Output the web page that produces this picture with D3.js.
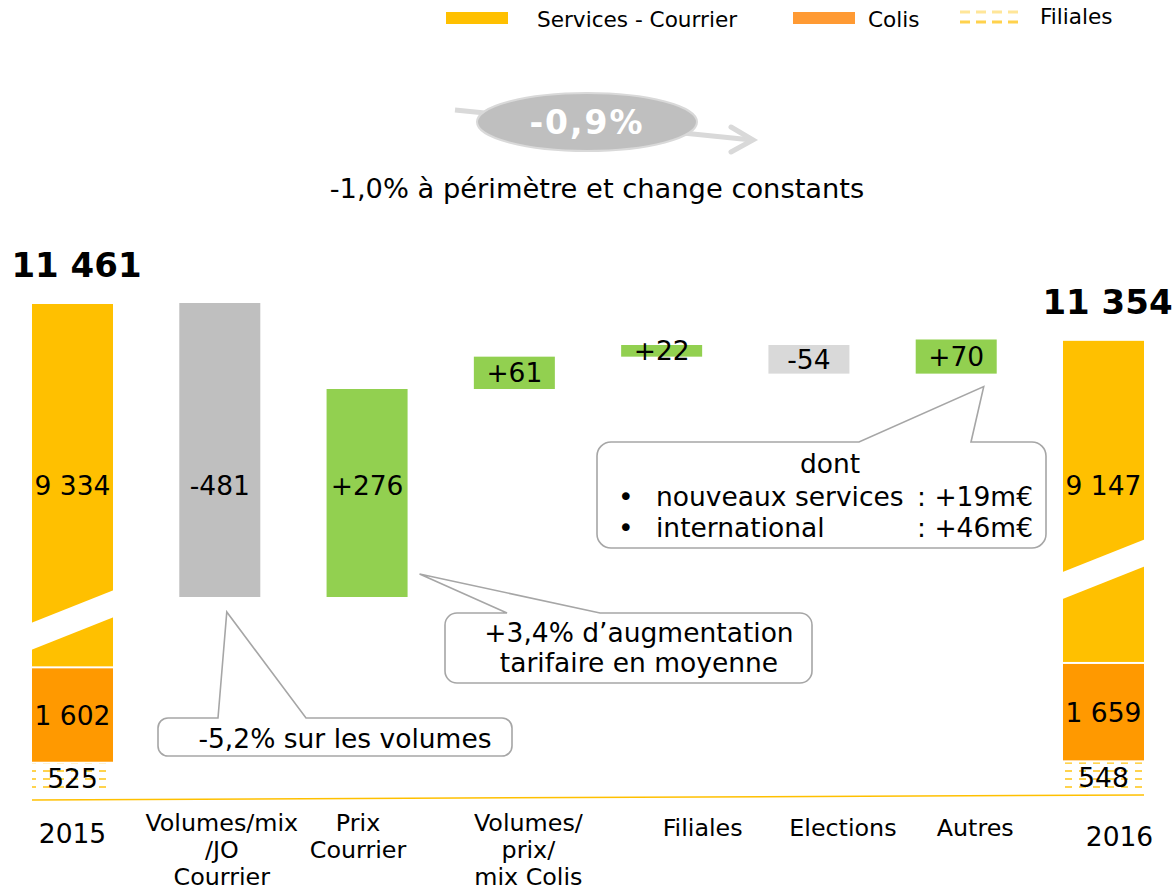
<!DOCTYPE html>
<html>
<head>
<meta charset="utf-8">
<script src="https://cdn.jsdelivr.net/npm/d3@7"></script>
<style>
  body { margin: 0; background: #fff; }
  text { font-family: "DejaVu Sans", Verdana, sans-serif; fill: #000; }
</style>
</head>
<body>
<svg id="chart" width="1172" height="893"></svg>
<script>
// ---- data ----
const categories = ["2015", "Volumes/mix /JO Courrier", "Prix Courrier", "Volumes/ prix/ mix Colis",
  "Filiales", "Elections", "Autres", "2016"];
const categoryLines = [["2015"], ["Volumes/mix", "/JO", "Courrier"], ["Prix", "Courrier"],
  ["Volumes/", "prix/", "mix Colis"], ["Filiales"], ["Elections"], ["Autres"], ["2016"]];
const segments = ["Services - Courrier", "Colis", "Filiales"];
const values2015 = [9334, 1602, 525];
const values2016 = [9147, 1659, 548];
const deltas = [-481, 276, 61, 22, -54, 70];
const headline = "-0,9%";
const subtitle = "-1,0% à périmètre et change constants";
const notes = {
  volumes: ["-5,2% sur les volumes"],
  prix: ["+3,4% d\u2019augmentation", "tarifaire en moyenne"],
  autresTitle: "dont",
  autresItems: [["nouveaux services", ": +19m€"], ["international", ": +46m€"]]
};

// ---- styles / layout ----
const segColor = {"Services - Courrier": "#ffc000", "Colis": "#ff9900", "Filiales": "url(#filPat)"};
const deltaFill = ["#bfbfbf", "#92d050", "#92d050", "#92d050", "#d9d9d9", "#92d050"];
const labelDx = [0, 2, -9, 14, 41, 34, 19, 16];
const labelBase = [843, 831, 831, 831, 836, 836, 836, 846];
const lineStep = 27;
const breakFrac = [0.13, 0.29];

const fr = d3.formatLocale({decimal: ",", thousands: " ", grouping: [3], currency: ["", "€"]});
const fmt = fr.format(",d");
const fmtSigned = v => (v > 0 ? "+" : "-") + fmt(Math.abs(v));

const svg = d3.select("#chart");
const defs = svg.append("defs");
const pat = defs.append("pattern").attr("id", "filPat")
  .attr("patternUnits", "userSpaceOnUse").attr("width", 14).attr("height", 8);
pat.append("rect").attr("x", 1).attr("y", 2).attr("width", 7).attr("height", 2).attr("fill", "#ffd34d");

const x = d3.scaleBand().domain(categories).range([32, 1144]).paddingInner(0.45).paddingOuter(0);
// broken value axis: stacked base compressed, top section stretched
const y = d3.scaleLinear()
  .domain([0, 2200, 10980, 11256, 11339, 11461])
  .range([794, 663, 597, 389, 345, 303]);
const bw = x.bandwidth();

// ---- legend ----
const legend = svg.append("g");
legend.append("rect").attr("x", 446).attr("y", 12).attr("width", 62).attr("height", 12).attr("fill", "#ffc000");
legend.append("text").attr("x", 537).attr("y", 27).attr("font-size", 21.6).text(segments[0]);
legend.append("rect").attr("x", 793).attr("y", 12).attr("width", 62).attr("height", 12).attr("fill", "#ff9a33");
legend.append("text").attr("x", 868).attr("y", 27).attr("font-size", 21.6).text(segments[1]);
legend.append("line").attr("x1", 960).attr("x2", 1020).attr("y1", 12).attr("y2", 12)
  .attr("stroke", "#ffe699").attr("stroke-width", 3).attr("stroke-dasharray", "10 6");
legend.append("line").attr("x1", 960).attr("x2", 1020).attr("y1", 22).attr("y2", 22)
  .attr("stroke", "#ffd24d").attr("stroke-width", 3).attr("stroke-dasharray", "10 6");
legend.append("text").attr("x", 1040).attr("y", 24).attr("font-size", 21.6).text(segments[2]);

// ---- headline growth ----
const head = svg.append("g");
head.append("line").attr("x1", 455).attr("y1", 110).attr("x2", 752).attr("y2", 140)
  .attr("stroke", "#d9d9d9").attr("stroke-width", 5);
head.append("polyline").attr("points", "731,127 753,140 731,152")
  .attr("fill", "none").attr("stroke", "#d9d9d9").attr("stroke-width", 5).attr("stroke-linecap", "round");
head.append("ellipse").attr("cx", 587).attr("cy", 122).attr("rx", 110).attr("ry", 29)
  .attr("fill", "#bfbfbf").attr("stroke", "#d9d9d9").attr("stroke-width", 2);
head.append("text").attr("x", 587).attr("y", 122).attr("dy", "0.36em").attr("text-anchor", "middle")
  .attr("font-size", 33).attr("font-weight", "bold").attr("letter-spacing", 2)
  .style("fill", "#fff").text(headline);
svg.append("text").attr("x", 597).attr("y", 198).attr("text-anchor", "middle")
  .attr("font-size", 27.3).text(subtitle);

// ---- baseline ----
svg.append("line").attr("x1", 32).attr("x2", 1144).attr("y1", y(0) + 6).attr("y2", y(0) + 1)
  .attr("stroke", "#ffc000").attr("stroke-width", 1.5);

// ---- total bars ----
const labelRowY = (y(values2015[1] + values2015[2]) + y(d3.sum(values2015))) / 2;

function stackTotal(vals) {
  let acc = 0;
  const out = [];
  for (let i = vals.length - 1; i >= 0; i--) {
    out.push({seg: segments[i], v: vals[i], y0: acc, y1: acc + vals[i]});
    acc += vals[i];
  }
  return out;
}

const totals = [
  {cat: categories[0], stack: stackTotal(values2015), total: d3.sum(values2015), brk: breakFrac[0]},
  {cat: categories[7], stack: stackTotal(values2016), total: d3.sum(values2016), brk: breakFrac[1]}
];

totals.forEach(t => {
  const g = svg.append("g");
  const x0 = x(t.cat);
  g.selectAll("rect").data(t.stack).enter().append("rect")
    .attr("x", x0).attr("width", bw)
    .attr("y", d => y(d.y1) + 1)
    .attr("height", d => y(d.y0) - y(d.y1) - 2)
    .attr("fill", d => segColor[d.seg]);
  // break marker across the courrier segment
  const top = t.stack[2];
  const yb = y(top.y0) - t.brk * (y(top.y0) - y(top.y1));
  const h = 27, rise = 33;
  g.append("polygon")
    .attr("points", [[x0 - 1, yb + rise / 2 + h / 2], [x0 + bw + 1, yb - rise / 2 + h / 2],
      [x0 + bw + 1, yb - rise / 2 - h / 2], [x0 - 1, yb + rise / 2 - h / 2]].join(" "))
    .attr("fill", "#fff");
  g.selectAll("text.seg").data(t.stack).enter().append("text")
    .attr("class", "seg")
    .attr("x", x0 + bw / 2).attr("text-anchor", "middle").attr("font-size", 26.5)
    .attr("y", d => d.seg === segments[0] ? labelRowY : (y(d.y0) + y(d.y1)) / 2)
    .attr("dy", "0.36em")
    .text(d => fmt(d.v));
  g.append("text").attr("x", x0 + bw / 2 + 4).attr("y", y(t.total) - 26)
    .attr("text-anchor", "middle").attr("font-size", 34).attr("font-weight", "bold")
    .text(fmt(t.total));
});

// ---- delta bars ----
let run = d3.sum(values2015);
const steps = deltas.map((d, i) => {
  const s = {cat: categories[i + 1], d: d, from: run, to: run + d, fill: deltaFill[i]};
  run += d;
  return s;
});

svg.selectAll("rect.delta").data(steps).enter().append("rect")
  .attr("class", "delta")
  .attr("x", d => x(d.cat)).attr("width", bw)
  .attr("y", d => y(Math.max(d.from, d.to)))
  .attr("height", d => Math.abs(y(d.from) - y(d.to)))
  .attr("fill", d => d.fill);

svg.selectAll("text.delta").data(steps).enter().append("text")
  .attr("class", "delta")
  .attr("x", d => x(d.cat) + bw / 2).attr("text-anchor", "middle").attr("font-size", 26.5)
  .attr("y", d => Math.abs(y(d.from) - y(d.to)) > 150 ? labelRowY : (y(d.from) + y(d.to)) / 2)
  .attr("dy", "0.36em")
  .text(d => fmtSigned(d.d));

// ---- category labels ----
categories.forEach((c, i) => {
  const t = svg.append("text").attr("text-anchor", "middle")
    .attr("font-size", (i === 0 || i === 7) ? 26.5 : 23.8)
    .attr("x", x(c) + bw / 2 + labelDx[i]).attr("y", labelBase[i]);
  categoryLines[i].forEach((line, j) => {
    t.append("tspan").attr("x", x(c) + bw / 2 + labelDx[i]).attr("dy", j === 0 ? 0 : lineStep).text(line);
  });
});

// ---- callouts ----
function calloutPath(bx, by, w, h, r, p1, p2, tx, ty) {
  return `M${bx + r},${by} L${p1},${by} L${tx},${ty} L${p2},${by} L${bx + w - r},${by}` +
    ` A${r},${r} 0 0 1 ${bx + w},${by + r} L${bx + w},${by + h - r}` +
    ` A${r},${r} 0 0 1 ${bx + w - r},${by + h} L${bx + r},${by + h}` +
    ` A${r},${r} 0 0 1 ${bx},${by + h - r} L${bx},${by + r}` +
    ` A${r},${r} 0 0 1 ${bx + r},${by} Z`;
}
const callout = svg.append("g");
const cStyle = sel => sel.attr("fill", "#fff").attr("stroke", "#a6a6a6").attr("stroke-width", 1.6);
const noteSize = 26.5;

// volumes courrier
const s1 = steps[0];
callout.append("path").call(cStyle)
  .attr("d", calloutPath(158, 718, 354, 38, 10, 218, 306, x(s1.cat) + bw / 2 + 7, y(s1.to) + 15));
callout.append("text").attr("x", 345).attr("y", 748).attr("text-anchor", "middle").attr("font-size", noteSize)
  .text(notes.volumes[0]);

// prix courrier
const s2 = steps[1];
callout.append("path").call(cStyle)
  .attr("d", calloutPath(445, 613, 367, 70, 12, 507, 600, x(s2.cat) + bw + 12, y(s2.from) - 23));
notes.prix.forEach((l, i) => {
  callout.append("text").attr("x", 639).attr("y", 642 + i * 30).attr("text-anchor", "middle")
    .attr("font-size", noteSize).text(l);
});

// autres
const s6 = steps[5];
callout.append("path").call(cStyle)
  .attr("d", calloutPath(597, 442, 449, 106, 14, 859, 971, x(s6.cat) + bw - 13, y(s6.from) + 13));
callout.append("text").attr("x", 830).attr("y", 473).attr("text-anchor", "middle")
  .attr("font-size", noteSize).text(notes.autresTitle);
notes.autresItems.forEach((it, i) => {
  const yy = 506 + i * 31;
  callout.append("text").attr("x", 618).attr("y", yy).attr("font-size", noteSize).text("•");
  callout.append("text").attr("x", 656).attr("y", yy).attr("font-size", noteSize).text(it[0]);
  callout.append("text").attr("x", 1033).attr("y", yy).attr("text-anchor", "end")
    .attr("font-size", noteSize).text(it[1]);
});
</script>
</body>
</html>
